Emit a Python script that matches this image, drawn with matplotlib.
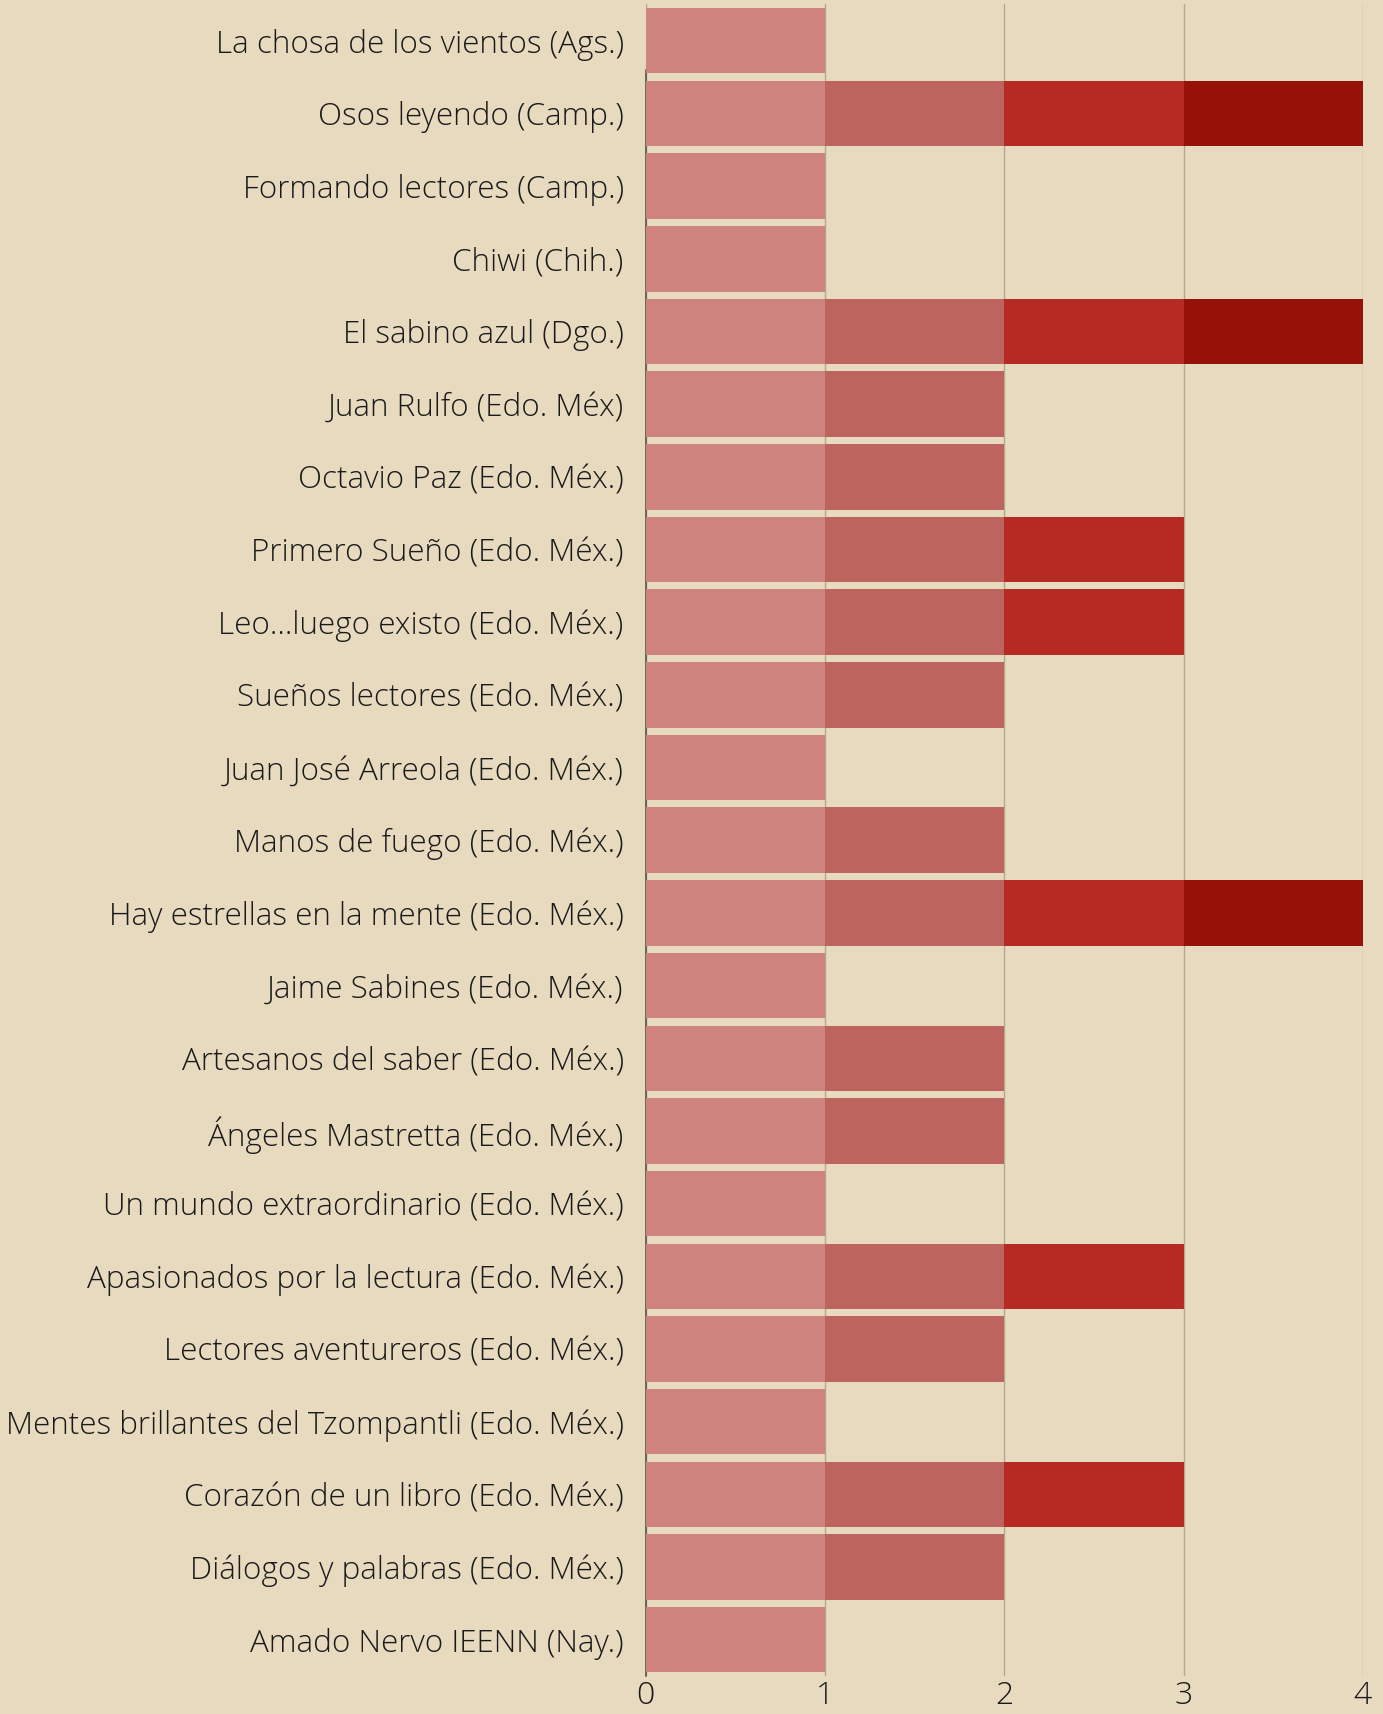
import matplotlib
matplotlib.use("Agg")
import matplotlib.pyplot as plt

categories = [
    "La chosa de los vientos (Ags.)",
    "Osos leyendo (Camp.)",
    "Formando lectores (Camp.)",
    "Chiwi (Chih.)",
    "El sabino azul (Dgo.)",
    "Juan Rulfo (Edo. Méx)",
    "Octavio Paz (Edo. Méx.)",
    "Primero Sueño (Edo. Méx.)",
    "Leo...luego existo (Edo. Méx.)",
    "Sueños lectores (Edo. Méx.)",
    "Juan José Arreola (Edo. Méx.)",
    "Manos de fuego (Edo. Méx.)",
    "Hay estrellas en la mente (Edo. Méx.)",
    "Jaime Sabines (Edo. Méx.)",
    "Artesanos del saber (Edo. Méx.)",
    "Ángeles Mastretta (Edo. Méx.)",
    "Un mundo extraordinario (Edo. Méx.)",
    "Apasionados por la lectura (Edo. Méx.)",
    "Lectores aventureros (Edo. Méx.)",
    "Mentes brillantes del Tzompantli (Edo. Méx.)",
    "Corazón de un libro (Edo. Méx.)",
    "Diálogos y palabras (Edo. Méx.)",
    "Amado Nervo IEENN (Nay.)",
]
seg1 = [1, 1, 1, 1, 1, 1, 1, 1, 1, 1, 1, 1, 1, 1, 1, 1, 1, 1, 1, 1, 1, 1, 1]
seg2 = [0, 1, 0, 0, 1, 1, 1, 1, 1, 1, 0, 1, 1, 0, 1, 1, 0, 1, 1, 0, 1, 1, 0]
seg3 = [0, 1, 0, 0, 1, 0, 0, 1, 1, 0, 0, 0, 1, 0, 0, 0, 0, 1, 0, 0, 1, 0, 0]
seg4 = [0, 1, 0, 0, 1, 0, 0, 0, 0, 0, 0, 0, 1, 0, 0, 0, 0, 0, 0, 0, 0, 0, 0]
series = [seg1, seg2, seg3, seg4]
colors = ["#cf837e", "#bc645d", "#b52b24", "#961108"]
xticks = [0, 1, 2, 3, 4]

bg = "#e7dabf"
fam = ["Open Sans", "DejaVu Sans"]

fig = plt.figure(figsize=(13.83, 17.14), dpi=100, facecolor=bg)
ax = fig.add_axes([0.467, 0.0222, 0.5185, 0.9752], facecolor=bg)

y = list(range(len(categories)))
left = [0] * len(categories)
for vals, c in zip(series, colors):
    ax.barh(y, vals, left=left, height=0.9, color=c, edgecolor="none", zorder=3)
    left = [l + v for l, v in zip(left, vals)]

n = len(categories)
ax.set_ylim(n - 0.5, -0.5)
ax.set_xlim(0, 4)
ax.set_xticks(xticks)
ax.set_xticklabels([str(t) for t in xticks], fontsize=23, family=fam, fontweight="light", color="#1a1a1a")
ax.set_yticks(y)
ax.set_yticklabels(categories, fontsize=22.6, family=fam, fontweight="light", color="#1a1a1a")
ax.tick_params(axis="y", length=0, pad=16)
ax.tick_params(axis="x", length=0, pad=3)
ax.grid(axis="x", color="#b0a890", linewidth=1.0, zorder=1)
ax.set_axisbelow(True)
for s in ax.spines.values():
    s.set_visible(False)
ax.spines["left"].set_visible(True)
ax.spines["left"].set_color("#555555")
ax.spines["left"].set_linewidth(1.2)
ax.spines["left"].set_zorder(2)
ax.spines["left"].set_bounds(n - 0.5, 0.4)

fig.savefig("out.png", dpi=100, facecolor=bg)
